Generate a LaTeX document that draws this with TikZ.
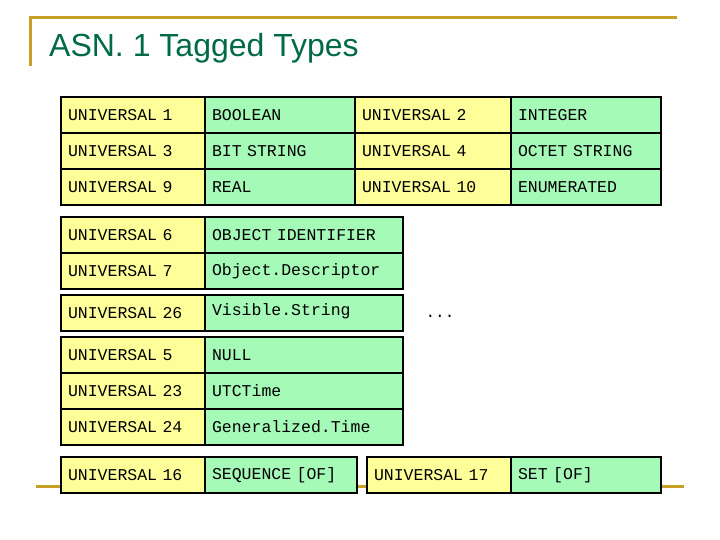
\documentclass[tikz,border=0pt]{standalone}
\usepackage{fontspec}
\setmainfont{Liberation Sans}
\newfontfamily\cour{Liberation Mono}
\definecolor{gold}{HTML}{C8A028}
\definecolor{ttl}{HTML}{006A44}
\definecolor{yel}{HTML}{FFFF99}
\definecolor{grn}{HTML}{A6FAB8}
\tikzset{cell/.style={draw=black,line width=2pt,anchor=north west,minimum height=36pt,inner xsep=7pt,align=left,font=\cour\fontsize{16.5}{18}\selectfont}}
\newcommand\mycell[6]{\node[cell,fill=#5,text width=#4pt-14pt,minimum width=#4pt] (#1) at (#2,#3) {#6};}
\begin{document}
\begin{tikzpicture}[x=1pt,y=-1pt]
\useasboundingbox (0,0) rectangle (720,540);
\draw[gold,line width=3pt] (30,66) coordinate (fl) -- (30,18) coordinate (ft) -- (677,18) coordinate (fr);
\draw[gold,line width=3pt] (36,486) coordinate (bl) -- (684,486) coordinate (br);
\node[anchor=base west,text=ttl,font=\fontsize{32}{36}\selectfont,inner sep=0] (title) at (49,57) {ASN. 1 Tagged Types};
% block A
\mycell{a1}{60}{96}{144}{yel}{UNIVERSAL 1}
\mycell{a2}{204}{96}{150}{grn}{BOOLEAN}
\mycell{a3}{354}{96}{156}{yel}{UNIVERSAL 2}
\mycell{a4}{510}{96}{150}{grn}{INTEGER}
\mycell{b1}{60}{132}{144}{yel}{UNIVERSAL 3}
\mycell{b2}{204}{132}{150}{grn}{BIT STRING}
\mycell{b3}{354}{132}{156}{yel}{UNIVERSAL 4}
\mycell{b4}{510}{132}{150}{grn}{OCTET STRING}
\mycell{c1}{60}{168}{144}{yel}{UNIVERSAL 9}
\mycell{c2}{204}{168}{150}{grn}{REAL}
\mycell{c3}{354}{168}{156}{yel}{UNIVERSAL 10}
\mycell{c4}{510}{168}{150}{grn}{ENUMERATED}
% block B
\mycell{d1}{60}{216}{144}{yel}{UNIVERSAL 6}
\mycell{d2}{204}{216}{198}{grn}{OBJECT IDENTIFIER}
\mycell{e1}{60}{252}{144}{yel}{UNIVERSAL 7}
\mycell{e2}{204}{252}{198}{grn}{Object.Descriptor}
% block C
\mycell{f1}{60}{294}{144}{yel}{UNIVERSAL 26}
\node[cell,fill=grn,text width=184pt,minimum width=198pt,minimum height=36pt,anchor=north west,text depth=6pt] (f2) at (204,294) {Visible.String};
\node[font=\cour\fontsize{16}{18}\selectfont] (dots) at (440,316) {...};
% block D
\mycell{g1}{60}{336}{144}{yel}{UNIVERSAL 5}
\mycell{g2}{204}{336}{198}{grn}{NULL}
\mycell{h1}{60}{372}{144}{yel}{UNIVERSAL 23}
\mycell{h2}{204}{372}{198}{grn}{UTCTime}
\mycell{i1}{60}{408}{144}{yel}{UNIVERSAL 24}
\mycell{i2}{204}{408}{198}{grn}{Generalized.Time}
% block E
\mycell{j1}{60}{456}{144}{yel}{UNIVERSAL 16}
\mycell{j2}{204}{456}{152}{grn}{SEQUENCE [OF]}
\mycell{k1}{366}{456}{144}{yel}{UNIVERSAL 17}
\mycell{k2}{510}{456}{150}{grn}{SET [OF]}
\end{tikzpicture}
\end{document}
